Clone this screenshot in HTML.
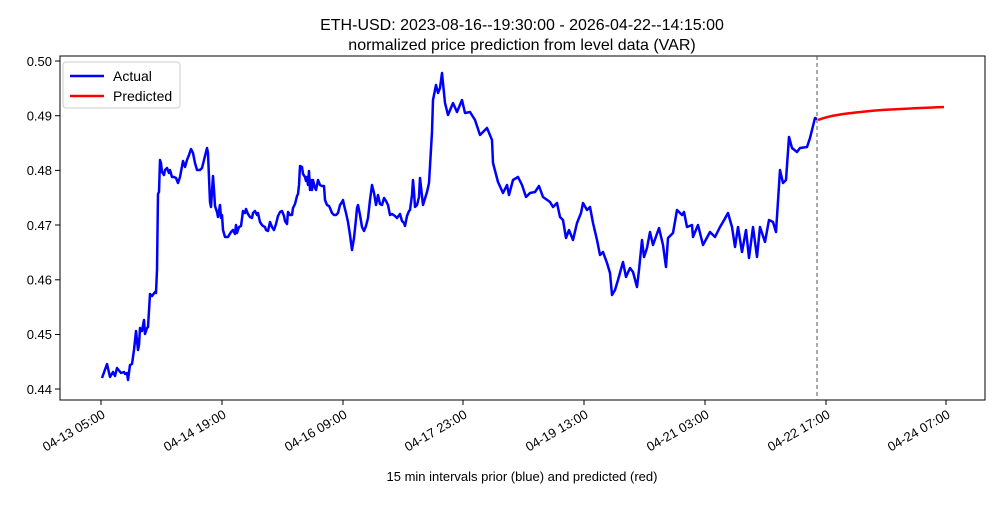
<!DOCTYPE html>
<html><head><meta charset="utf-8"><style>body{margin:0;background:#fff}</style></head><body>
<svg width="1000" height="500" xmlns="http://www.w3.org/2000/svg" font-family="'Liberation Sans','DejaVu Sans',sans-serif">
<rect width="1000" height="500" fill="#fff"/>
<text x="522" y="30" font-size="16" text-anchor="middle">ETH-USD: 2023-08-16--19:30:00 - 2026-04-22--14:15:00</text>
<text x="522" y="50" font-size="16" text-anchor="middle">normalized price prediction from level data (VAR)</text>
<rect x="60" y="56" width="925" height="344" fill="none" stroke="#000" stroke-width="1"/>
<g font-size="13" text-anchor="end">
<line x1="55" y1="61" x2="60" y2="61" stroke="#000"/><text x="52" y="66">0.50</text>
<line x1="55" y1="115.7" x2="60" y2="115.7" stroke="#000"/><text x="52" y="120.5">0.49</text>
<line x1="55" y1="170.4" x2="60" y2="170.4" stroke="#000"/><text x="52" y="175">0.48</text>
<line x1="55" y1="225" x2="60" y2="225" stroke="#000"/><text x="52" y="230">0.47</text>
<line x1="55" y1="279.8" x2="60" y2="279.8" stroke="#000"/><text x="52" y="284.5">0.46</text>
<line x1="55" y1="334.5" x2="60" y2="334.5" stroke="#000"/><text x="52" y="339">0.45</text>
<line x1="55" y1="389" x2="60" y2="389" stroke="#000"/><text x="52" y="394">0.44</text>
</g>
<g font-size="13" text-anchor="end">
<line x1="101" y1="400" x2="101" y2="405" stroke="#000"/><text transform="translate(106,417) rotate(-30)">04-13 05:00</text>
<line x1="222" y1="400" x2="222" y2="405" stroke="#000"/><text transform="translate(227,417) rotate(-30)">04-14 19:00</text>
<line x1="343" y1="400" x2="343" y2="405" stroke="#000"/><text transform="translate(348,417) rotate(-30)">04-16 09:00</text>
<line x1="463" y1="400" x2="463" y2="405" stroke="#000"/><text transform="translate(468,417) rotate(-30)">04-17 23:00</text>
<line x1="584" y1="400" x2="584" y2="405" stroke="#000"/><text transform="translate(589,417) rotate(-30)">04-19 13:00</text>
<line x1="705" y1="400" x2="705" y2="405" stroke="#000"/><text transform="translate(710,417) rotate(-30)">04-21 03:00</text>
<line x1="826" y1="400" x2="826" y2="405" stroke="#000"/><text transform="translate(831,417) rotate(-30)">04-22 17:00</text>
<line x1="946" y1="400" x2="946" y2="405" stroke="#000"/><text transform="translate(951,417) rotate(-30)">04-24 07:00</text>
</g>
<text x="522" y="481" font-size="13" text-anchor="middle">15 min intervals prior (blue) and predicted (red)</text>
<line x1="817" y1="56" x2="817" y2="400" stroke="#555" stroke-width="1" stroke-dasharray="4,3"/>
<polyline fill="none" stroke="#0000ff" stroke-width="2.5" stroke-linejoin="round" points="102,378 107,364 110,377 113,372 115,376 117,368 121,373 124,372 125,374 127,373 128,380 130,365 132,364 134,350 136,331 138,350 139,345 140,328 142,331 144,320 145,334 147,328 148,327 150,294 152,296 155,292 156,293 157,270 158,194 159,192 160,160 161,163 162,172 164,175 165,170 167,168 169,173 170,170 172,177 174,177 176,178 178,183 180,177 183,161 185,167 187,160 189,155 191,149 193,153 195,163 197,170 200,170 202,168 205,156 207,148 208,153 210,202 211,207 213,176 214,190 215,206 217,212 218,217 220,205 221,218 222,215 223,230 225,237 228,237 231,232 233,230 235,234 236,225 237,233 239,227 241,226 243,211 245,213 246,209 248,214 250,217 252,218 253,213 255,211 257,215 258,213 260,222 262,225 263,226 265,227 266,230 268,231 270,222 272,227 274,230 276,224 278,216 280,212 282,211 284,216 285,221 287,224 288,212 290,215 292,215 293,208 295,204 297,196 298,194 299,185 300,166 302,167 303,174 305,177 306,181 307,177 308,185 309,171 310,190 311,180 312,190 313,180 315,188 316,190 318,180 320,185 322,186 324,186 325,200 327,205 329,206 330,208 332,213 334,215 336,215 338,213 340,205 342,202 343,200 344,205 346,213 348,222 350,235 352,250 354,238 356,219 357,208 358,205 360,215 362,227 364,231 366,226 368,218 370,200 372,185 374,193 376,205 378,195 380,204 382,205 384,198 386,201 388,205 390,215 392,214 395,216 397,218 400,214 402,221 404,223 405,226 407,216 409,211 410,210 412,195 413,180 414,192 415,207 417,205 419,197 420,178 423,205 427,192 429,183 432,132 433,100 436,85 438,93 440,88 442,73 445,103 448,115 453,103 457,112 462,100 465,113 470,112 475,120 480,135 487,128 492,140 493,163 498,182 503,193 507,185 509,195 513,180 518,177 522,185 526,197 530,193 535,192 539,186 543,197 550,202 553,207 557,203 560,217 563,220 566,238 569,230 573,240 577,223 581,213 583,203 587,210 590,207 593,223 597,240 600,255 603,252 607,263 610,273 612,295 615,290 618,280 623,262 626,277 630,268 633,272 637,287 639,270 642,240 644,257 647,248 650,232 653,245 659,228 663,245 666,267 668,238 673,233 677,210 682,215 684,212 687,227 692,225 693,237 698,225 703,245 710,232 715,237 720,227 723,222 728,213 732,227 735,247 738,227 742,252 746,230 749,258 753,227 757,257 760,227 765,242 769,220 773,222 776,232 780,170 783,183 786,180 789,137 792,148 797,152 800,148 807,147 810,138 815,118 817,119"/>
<path d="M818,120 C830,115 850,113 870,111 S920,108 944,107" fill="none" stroke="#ff0000" stroke-width="2.5"/>
<rect x="63" y="62" width="117" height="46" fill="#fff" stroke="#ccc" rx="3"/>
<line x1="70" y1="76" x2="104" y2="76" stroke="#0000ff" stroke-width="2.5"/>
<text x="113" y="81" font-size="14">Actual</text>
<line x1="70" y1="96" x2="104" y2="96" stroke="#ff0000" stroke-width="2.5"/>
<text x="113" y="101" font-size="14">Predicted</text>
</svg>
</body></html>
